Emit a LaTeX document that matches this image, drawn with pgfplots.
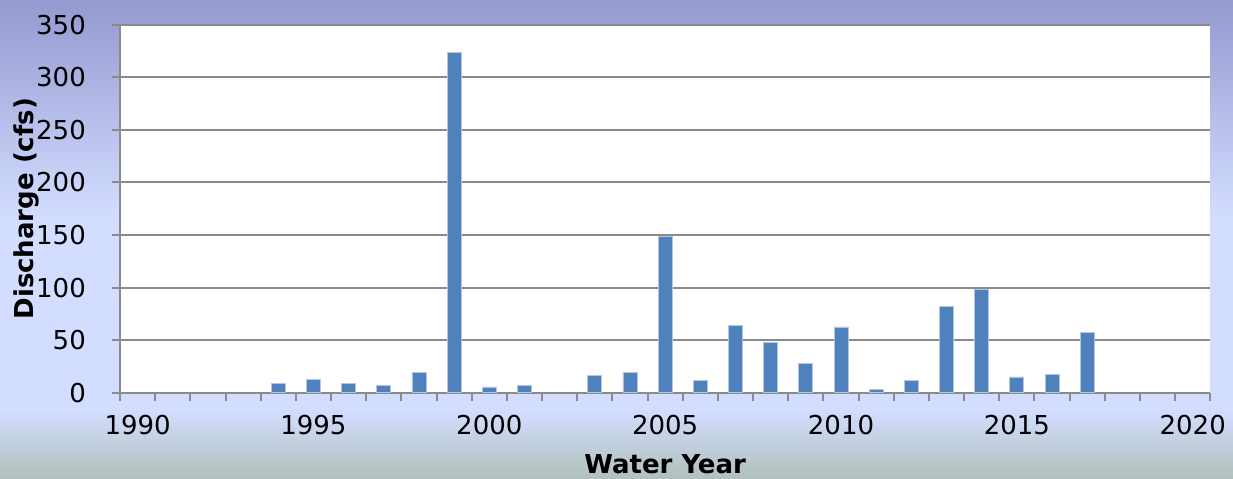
\documentclass[border=0pt]{standalone}
\usepackage{pgfplots}
\pgfplotsset{compat=1.18}
\usepackage{fontspec}
\setmainfont{DejaVu Sans}
\definecolor{bgtop}{HTML}{9499D0}
\definecolor{bglight}{HTML}{D3DDFF}
\definecolor{bgbot}{HTML}{B0C0BC}
\definecolor{barblue}{HTML}{4F81BD}
\definecolor{axgray}{HTML}{8A8A8A}
\pgfplotstableread{
year value
1994 9
1995 13
1996 9
1997 7
1998 19
1999 324
2000 5.5
2001 7
2003 16.5
2004 19
2005 149
2006 12
2007 64
2008 48
2009 28
2010 62.5
2011 3
2012 12
2013 82
2014 98
2015 15
2016 17
2017 57
}\peaks
\begin{document}
\begin{tikzpicture}
\shade[bottom color=bgbot, top color=bglight] (0bp,0bp) rectangle (1233bp,69.5bp);
\fill[bglight] (0bp,69bp) rectangle (1233bp,262.5bp);
\shade[bottom color=bglight, top color=bgtop] (0bp,262bp) rectangle (1233bp,479bp);
\begin{axis}[
  at={(120bp,86.3bp)}, anchor=south west,
  width=1090.3bp, height=368bp, scale only axis,
  axis background/.style={fill=white},
  xmin=1989.5, xmax=2020.5, ymin=0, ymax=350,
  axis x line*=bottom, axis y line*=left,
  axis line style={-, draw=axgray, line width=2bp},
  tick align=outside,
  major tick length=8.3bp,
  tick style={draw=axgray, line width=2bp},
  xtick={1989.5,1990.5,...,2020.5},
  xticklabels={},
  extra x ticks={1990,1995,2000,2005,2010,2015,2020},
  extra x tick labels={1990,1995,2000,2005,2010,2015,2020},
  extra x tick style={major tick length=0pt, grid=none},
  ytick={0,50,...,350},
  ymajorgrids,
  major grid style={draw=axgray, line width=2bp},
  /pgf/number format/assume math mode=true,
  ticklabel style={font=\fontsize{26bp}{31bp}\selectfont, text=black},
  xticklabel style={anchor=base, inner sep=0pt, yshift=-41.6bp},
  yticklabel style={anchor=east, inner sep=0pt, xshift=-25.7bp},
  label style={font=\fontsize{26bp}{31bp}\selectfont\bfseries, text=black},
  xlabel={Water Year},
  ylabel={Discharge (cfs)},
  xlabel style={at={(axis description cs:0.5,-0.219)}, anchor=base, inner sep=0pt},
  ylabel style={at={(axis description cs:-0.0795,0.5)}, anchor=base, inner sep=0pt},
  clip=false,
]
\addplot[ybar, bar width=14bp, bar shift=0pt, fill=barblue, draw=barblue!45!white, line width=0.8bp] table[x=year, y=value] {\peaks};
\end{axis}
\pgfresetboundingbox
\path[use as bounding box] (0bp,0bp) rectangle (1233bp,479bp);
\end{tikzpicture}
\end{document}
